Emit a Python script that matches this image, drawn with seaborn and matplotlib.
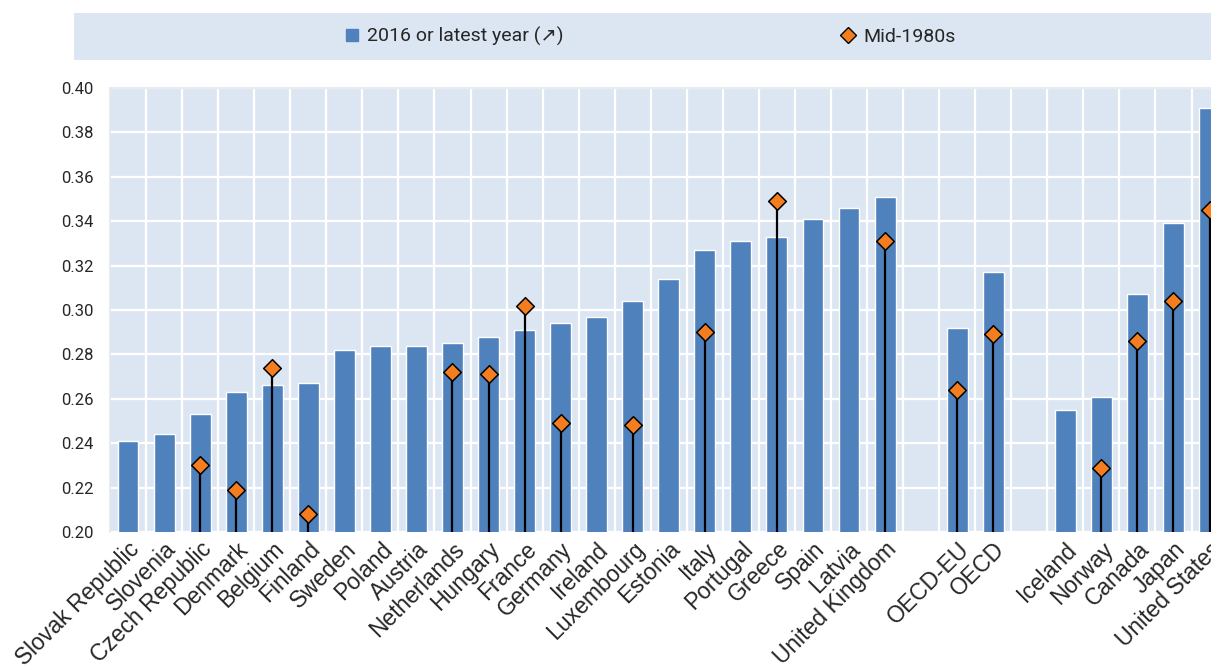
import numpy as np
import pandas as pd
import matplotlib
matplotlib.use("Agg")
import matplotlib.pyplot as plt
from matplotlib.patches import Rectangle
from matplotlib.lines import Line2D
import seaborn as sns

categories = ["Slovak Republic", "Slovenia", "Czech Republic", "Denmark", "Belgium", "Finland",
              "Sweden", "Poland", "Austria", "Netherlands", "Hungary", "France", "Germany",
              "Ireland", "Luxembourg", "Estonia", "Italy", "Portugal", "Greece", "Spain",
              "Latvia", "United Kingdom", " ", "OECD-EU", "OECD", "  ", "Iceland", "Norway",
              "Canada", "Japan", "United States"]
latest = [0.241, 0.244, 0.253, 0.263, 0.266, 0.267, 0.282, 0.284, 0.284, 0.285, 0.288, 0.291,
          0.294, 0.297, 0.304, 0.314, 0.327, 0.331, 0.333, 0.341, 0.346, 0.351, np.nan,
          0.292, 0.317, np.nan, 0.255, 0.261, 0.307, 0.339, 0.391]
mid80s = [np.nan, np.nan, 0.230, 0.219, 0.274, 0.208, np.nan, np.nan, np.nan, 0.272, 0.271,
          0.302, 0.249, np.nan, 0.248, np.nan, 0.290, np.nan, 0.349, np.nan, np.nan, 0.331,
          np.nan, 0.264, 0.289, np.nan, np.nan, 0.229, 0.286, 0.304, 0.345]
yticks = [0.20, 0.22, 0.24, 0.26, 0.28, 0.30, 0.32, 0.34, 0.36, 0.38, 0.40]
legend_labels = ["2016 or latest year (\u2197)", "Mid-1980s"]

bar_color = "#4F81BD"
dia_color = "#F47D20"
bg = "#DCE6F2"
narrow = ["Liberation Sans Narrow", "Roboto", "DejaVu Sans"]

df = pd.DataFrame({"cat": categories, "latest": latest, "mid": mid80s})

sns.set_style("white")
plt.rcParams["font.family"] = ["Liberation Sans", "DejaVu Sans"]

fig = plt.figure(figsize=(12.11, 6.65), dpi=100)
W, H = 1211, 665
ax = fig.add_axes([110 / W, (H - 532) / H, 31 * 36.05 / W, 444 / H])
ax.set_facecolor(bg)

sns.barplot(data=df, x="cat", y="latest", order=categories, color=bar_color,
            width=0.58, saturation=1, ax=ax, zorder=2)

pos = np.arange(len(categories))
mid = np.array(mid80s, dtype=float)
ok = ~np.isnan(mid)
ax.vlines(pos[ok], yticks[0], mid[ok], color="black", lw=1.6, zorder=3)

sns.stripplot(data=df, x="cat", y="mid", order=categories, jitter=False, marker="D",
              s=9, color=dia_color, edgecolor="black", linewidth=1.1, ax=ax, zorder=4)

ax.set_ylim(yticks[0], yticks[-1])
ax.set_xlim(-0.5, len(categories) - 0.5)
ax.set_yticks(yticks)
ax.set_yticklabels([f"{v:.2f}" for v in yticks], family=narrow, fontsize=12)
ax.set_xticks(pos)
ax.set_xticklabels(categories, rotation=45, ha="right", rotation_mode="anchor",
                   fontsize=16.5, family=["Liberation Sans", "DejaVu Sans"])
ax.tick_params(axis="x", length=0, pad=4)
ax.tick_params(axis="y", length=0, pad=12)
ax.set_xticks(pos[:-1] + 0.5, minor=True)
ax.tick_params(axis="x", which="minor", length=0)
ax.grid(False)
ax.grid(True, which="minor", axis="x", color="white", lw=1.6, zorder=1)
ax.grid(True, which="major", axis="y", color="white", lw=1.6, zorder=1)
ax.set_axisbelow(True)
ax.set_xlabel("")
ax.set_ylabel("")
for s in ["right", "bottom"]:
    ax.spines[s].set_visible(False)
for s in ["top", "left"]:
    ax.spines[s].set_color("#E4E8EE")
    ax.spines[s].set_linewidth(1.2)

# legend band
fig.patches.append(Rectangle((74 / W, 1 - 60 / H), 1.0, 47 / H, transform=fig.transFigure,
                             facecolor=bg, edgecolor="none", zorder=0))
h1 = Line2D([], [], marker="s", ls="none", markersize=9, color=bar_color)
h2 = Line2D([], [], marker="D", ls="none", markersize=8, markerfacecolor=dia_color,
            markeredgecolor="black", markeredgewidth=1.0)
for h, lab, x in [(h1, legend_labels[0], 343), (h2, legend_labels[1], 839)]:
    fig.legend(handles=[h], labels=[lab], loc="center left",
               bbox_to_anchor=(x / W, 1 - 36.5 / H), frameon=False, borderpad=0,
               borderaxespad=0, handlelength=0.9, handletextpad=0.35,
               prop={"family": narrow, "size": 14})

fig.savefig("out.png", dpi=100)
